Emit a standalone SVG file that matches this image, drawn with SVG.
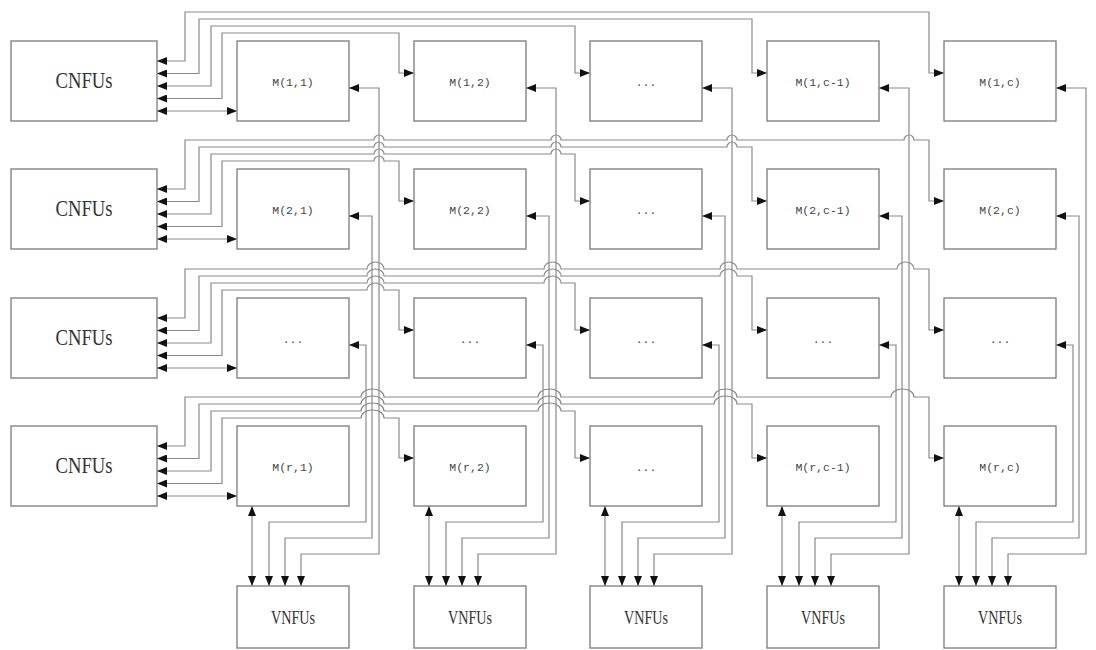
<svg xmlns="http://www.w3.org/2000/svg" width="1096" height="650" viewBox="0 0 1096 650">
<style>
.box{fill:#fff;stroke:#7a7a7a;stroke-width:1.3}
.big{font-family:"Liberation Serif",serif;font-size:23px;fill:#333;text-anchor:middle}
.mid{font-family:"Liberation Serif",serif;font-size:18px;fill:#333;text-anchor:middle}
.sm{font-family:"Liberation Mono",monospace;font-size:11.5px;fill:#444;text-anchor:middle}
.c{fill:none;stroke:#8a8a8a;stroke-width:1.2;marker-start:url(#ah);marker-end:url(#ah)}
</style>
<defs>
<marker id="ah" markerUnits="userSpaceOnUse" markerWidth="10" markerHeight="8" viewBox="0 0 10 8" refX="10" refY="4" orient="auto-start-reverse">
<path d="M0,0 L10,4 L0,8 z" fill="#111"/>
</marker>
</defs>
<rect width="1096" height="650" fill="#fff"/>
<g id="connectors">
<!-- row 1 -->
<path class="c" d="M157,61 H185 V12 H929 V73 H944"/>
<path class="c" d="M157,73.5 H199 V19 H752 V73 H767"/>
<path class="c" d="M157,86 H211 V26 H575 V73 H590"/>
<path class="c" d="M157,98.5 H222 V33 H399 V73 H414"/>
<path class="c" d="M157,111 H237"/>
<!-- row 2 -->
<path class="c" d="M157,189 H185 V140 H374 A5,5 0 0 1 384,140 H551 A5,5 0 0 1 561,140 H727 A5,5 0 0 1 737,140 H904 A5,5 0 0 1 914,140 H929 V201 H944"/>
<path class="c" d="M157,201.5 H199 V147 H374 A5,5 0 0 1 384,147 H551 A5,5 0 0 1 561,147 H727 A5,5 0 0 1 737,147 H752 V201 H767"/>
<path class="c" d="M157,214 H211 V154 H374 A5,5 0 0 1 384,154 H551 A5,5 0 0 1 561,154 H575 V201 H590"/>
<path class="c" d="M157,226.5 H222 V161 H374 A5,5 0 0 1 384,161 H399 V201 H414"/>
<path class="c" d="M157,239 H237"/>
<!-- row 3 -->
<path class="c" d="M157,318 H185 V269 H367 A8.5,7 0 0 1 384,269 H544 A8.5,7 0 0 1 561,269 H720 A8.5,7 0 0 1 737,269 H897 A8.5,7 0 0 1 914,269 H929 V330 H944"/>
<path class="c" d="M157,330.5 H199 V276 H367 A8.5,7 0 0 1 384,276 H544 A8.5,7 0 0 1 561,276 H720 A8.5,7 0 0 1 737,276 H752 V330 H767"/>
<path class="c" d="M157,343 H211 V283 H367 A8.5,7 0 0 1 384,283 H544 A8.5,7 0 0 1 561,283 H575 V330 H590"/>
<path class="c" d="M157,355.5 H222 V290 H367 A8.5,7 0 0 1 384,290 H399 V330 H414"/>
<path class="c" d="M157,368 H237"/>
<!-- row 4 -->
<path class="c" d="M157,446 H185 V397 H361 A11.5,8 0 0 1 384,397 H538 A11.5,8 0 0 1 561,397 H714 A11.5,8 0 0 1 737,397 H891 A11.5,8 0 0 1 914,397 H929 V458 H944"/>
<path class="c" d="M157,458.5 H199 V404 H361 A11.5,8 0 0 1 384,404 H538 A11.5,8 0 0 1 561,404 H714 A11.5,8 0 0 1 737,404 H752 V458 H767"/>
<path class="c" d="M157,471 H211 V411 H361 A11.5,8 0 0 1 384,411 H538 A11.5,8 0 0 1 561,411 H575 V458 H590"/>
<path class="c" d="M157,483.5 H222 V418 H361 A11.5,8 0 0 1 384,418 H399 V458 H414"/>
<path class="c" d="M157,496 H237"/>
<!-- column feeds -->
<path class="c" d="M349,88 H379 V554 H301 V586"/>
<path class="c" d="M349,216 H372 V538 H285 V586"/>
<path class="c" d="M349,345 H366 V522 H269 V586"/>
<path class="c" d="M252,506 V586"/>
<path class="c" d="M526,88 H556 V554 H478 V586"/>
<path class="c" d="M526,216 H549 V538 H462 V586"/>
<path class="c" d="M526,345 H543 V522 H446 V586"/>
<path class="c" d="M429,506 V586"/>
<path class="c" d="M702,88 H732 V554 H654 V586"/>
<path class="c" d="M702,216 H725 V538 H638 V586"/>
<path class="c" d="M702,345 H719 V522 H622 V586"/>
<path class="c" d="M605,506 V586"/>
<path class="c" d="M879,88 H909 V554 H831 V586"/>
<path class="c" d="M879,216 H902 V538 H815 V586"/>
<path class="c" d="M879,345 H896 V522 H799 V586"/>
<path class="c" d="M782,506 V586"/>
<path class="c" d="M1056,88 H1086 V554 H1008 V586"/>
<path class="c" d="M1056,216 H1079 V538 H992 V586"/>
<path class="c" d="M1056,345 H1073 V522 H976 V586"/>
<path class="c" d="M959,506 V586"/>
</g>
<g id="cnfu1"><rect class="box" x="11" y="41" width="146" height="80"/><text class="big" x="84" y="88" textLength="57" lengthAdjust="spacingAndGlyphs">CNFUs</text></g>
<g id="cnfu2"><rect class="box" x="11" y="169" width="146" height="80"/><text class="big" x="84" y="216" textLength="57" lengthAdjust="spacingAndGlyphs">CNFUs</text></g>
<g id="cnfu3"><rect class="box" x="11" y="298" width="146" height="80"/><text class="big" x="84" y="345" textLength="57" lengthAdjust="spacingAndGlyphs">CNFUs</text></g>
<g id="cnfu4"><rect class="box" x="11" y="426" width="146" height="80"/><text class="big" x="84" y="473" textLength="57" lengthAdjust="spacingAndGlyphs">CNFUs</text></g>
<g id="m11"><rect class="box" x="237" y="41" width="112" height="80"/><text class="sm" x="293" y="86">M(1,1)</text></g>
<g id="m12"><rect class="box" x="414" y="41" width="112" height="80"/><text class="sm" x="470" y="86">M(1,2)</text></g>
<g id="m13"><rect class="box" x="590" y="41" width="112" height="80"/><text class="sm" x="646" y="86">...</text></g>
<g id="m14"><rect class="box" x="767" y="41" width="112" height="80"/><text class="sm" x="823" y="86">M(1,c-1)</text></g>
<g id="m15"><rect class="box" x="944" y="41" width="112" height="80"/><text class="sm" x="1000" y="86">M(1,c)</text></g>
<g id="m21"><rect class="box" x="237" y="169" width="112" height="80"/><text class="sm" x="293" y="214">M(2,1)</text></g>
<g id="m22"><rect class="box" x="414" y="169" width="112" height="80"/><text class="sm" x="470" y="214">M(2,2)</text></g>
<g id="m23"><rect class="box" x="590" y="169" width="112" height="80"/><text class="sm" x="646" y="214">...</text></g>
<g id="m24"><rect class="box" x="767" y="169" width="112" height="80"/><text class="sm" x="823" y="214">M(2,c-1)</text></g>
<g id="m25"><rect class="box" x="944" y="169" width="112" height="80"/><text class="sm" x="1000" y="214">M(2,c)</text></g>
<g id="m31"><rect class="box" x="237" y="298" width="112" height="80"/><text class="sm" x="293" y="343">...</text></g>
<g id="m32"><rect class="box" x="414" y="298" width="112" height="80"/><text class="sm" x="470" y="343">...</text></g>
<g id="m33"><rect class="box" x="590" y="298" width="112" height="80"/><text class="sm" x="646" y="343">...</text></g>
<g id="m34"><rect class="box" x="767" y="298" width="112" height="80"/><text class="sm" x="823" y="343">...</text></g>
<g id="m35"><rect class="box" x="944" y="298" width="112" height="80"/><text class="sm" x="1000" y="343">...</text></g>
<g id="m41"><rect class="box" x="237" y="426" width="112" height="80"/><text class="sm" x="293" y="471">M(r,1)</text></g>
<g id="m42"><rect class="box" x="414" y="426" width="112" height="80"/><text class="sm" x="470" y="471">M(r,2)</text></g>
<g id="m43"><rect class="box" x="590" y="426" width="112" height="80"/><text class="sm" x="646" y="471">...</text></g>
<g id="m44"><rect class="box" x="767" y="426" width="112" height="80"/><text class="sm" x="823" y="471">M(r,c-1)</text></g>
<g id="m45"><rect class="box" x="944" y="426" width="112" height="80"/><text class="sm" x="1000" y="471">M(r,c)</text></g>
<g id="vnfu1"><rect class="box" x="237" y="586" width="112" height="62"/><text class="mid" x="293" y="624" textLength="44" lengthAdjust="spacingAndGlyphs">VNFUs</text></g>
<g id="vnfu2"><rect class="box" x="414" y="586" width="112" height="62"/><text class="mid" x="470" y="624" textLength="44" lengthAdjust="spacingAndGlyphs">VNFUs</text></g>
<g id="vnfu3"><rect class="box" x="590" y="586" width="112" height="62"/><text class="mid" x="646" y="624" textLength="44" lengthAdjust="spacingAndGlyphs">VNFUs</text></g>
<g id="vnfu4"><rect class="box" x="767" y="586" width="112" height="62"/><text class="mid" x="823" y="624" textLength="44" lengthAdjust="spacingAndGlyphs">VNFUs</text></g>
<g id="vnfu5"><rect class="box" x="944" y="586" width="112" height="62"/><text class="mid" x="1000" y="624" textLength="44" lengthAdjust="spacingAndGlyphs">VNFUs</text></g>
</svg>
